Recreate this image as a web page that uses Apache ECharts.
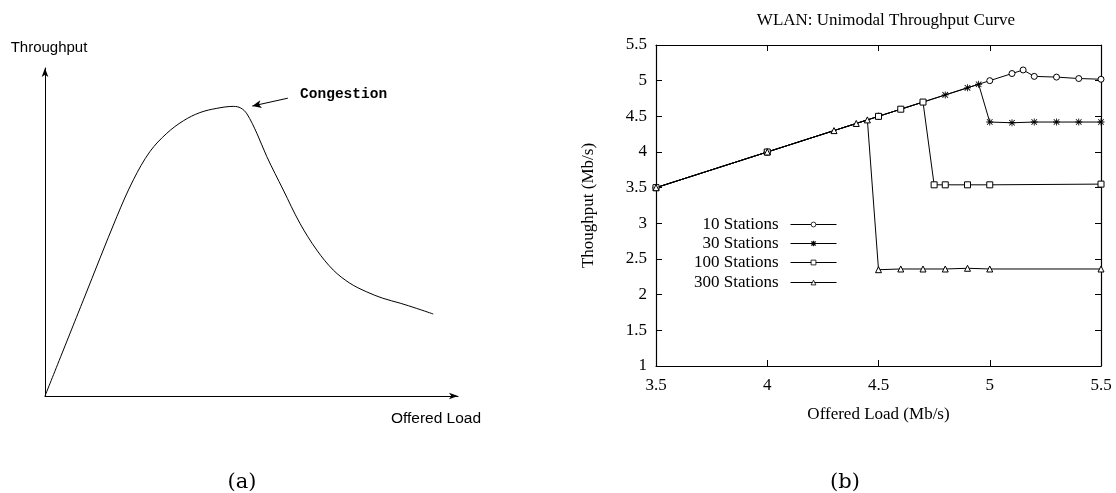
<!DOCTYPE html>
<html>
<head>
<meta charset="utf-8">
<script src="https://cdn.jsdelivr.net/npm/echarts@6/dist/echarts.min.js"></script>
<style>html,body{margin:0;padding:0;background:#fff;}#c{width:1116px;height:493px;}</style>
</head>
<body>
<div id="c"></div>
<script>
// ---- (a) schematic curve ----
const schematicCurve = [[0,0],[9.3,29.3],[17.4,54.7],[21.4,65.9],[25.4,74.5],[29.5,80.1],[33.5,83.9],[37.5,86.4],[41.6,87.7],[45.6,88.3],[47.4,87.8],[48.9,86.0],[51.3,80.1],[53.7,73.0],[57.7,62.8],[61.7,52.7],[65.8,44.5],[69.8,38.4],[73.8,34.4],[77.8,31.8],[81.8,29.8],[86.0,28.3],[90.0,26.7],[94.0,25.0]];
const congestionArrow = [[58.8,90.8],[50.2,88.4]];
const congestionLabelAt = [72.3,92.1];

// ---- (b) WLAN data ----
const xTicks = [3.5, 4, 4.5, 5, 5.5];
const seriesNames = ['10 Stations','30 Stations','100 Stations','300 Stations'];
const st10  = [[3.5,3.5],[4,4],[4.5,4.5],[5,5],[5.1,5.1],[5.15,5.15],[5.2,5.06],[5.3,5.05],[5.4,5.03],[5.5,5.02]];
const st30  = [[3.5,3.5],[4,4],[4.5,4.5],[4.8,4.8],[4.9,4.9],[4.95,4.95],[5,4.42],[5.1,4.41],[5.2,4.42],[5.3,4.42],[5.4,4.42],[5.5,4.42]];
const st100 = [[3.5,3.5],[4,4],[4.5,4.5],[4.6,4.6],[4.7,4.7],[4.75,3.54],[4.8,3.54],[4.9,3.54],[5,3.54],[5.5,3.55]];
const st300 = [[3.5,3.5],[4,4],[4.3,4.3],[4.4,4.4],[4.45,4.45],[4.5,2.35],[4.6,2.36],[4.7,2.36],[4.8,2.36],[4.9,2.37],[5,2.36],[5.5,2.36]];

const SERIF = '"Liberation Serif","DejaVu Serif",serif';
const SANS = '"Liberation Sans",Arial,sans-serif';
const asterisk = 'path://M0 4.4L10 4.4L10 5.6L0 5.6Z M4.4 0L5.6 0L5.6 10L4.4 10Z M0.6 1.5L1.5 0.6L9.4 8.5L8.5 9.4Z M8.5 0.6L9.4 1.5L1.5 9.4L0.6 8.5Z';

const chart = echarts.init(document.getElementById('c'), null, {renderer:'canvas'});

function stSeries(name, data, symbol, size, filled){
  return {
    name, type:'line', xAxisIndex:1, yAxisIndex:1, data,
    symbol, symbolSize:size, showAllSymbol:true,
    lineStyle:{color:'#000', width:1},
    itemStyle:{color: filled ? '#000' : '#fff', borderColor:'#000', borderWidth: filled ? 0 : 1},
    emphasis:{disabled:true}, animation:false, z:3
  };
}

const legendRows = [225, 244, 263, 283];
const legends = seriesNames.map((n,i)=>({
  data:[n], right:279, top:legendRows[i]-9, align:'right', orient:'vertical',
  itemWidth:46, itemHeight:6, itemGap:0, padding:0, selectedMode:false,
  lineStyle:{width:1, color:'#000'},
  itemStyle:{borderWidth:0.8},
  textStyle:{fontFamily:SERIF, fontSize:17, color:'#000', padding:[0,7,0,0]}
}));

const thinAxis = {lineStyle:{color:'#000', width:1.2}};

chart.setOption({
  animation:false,
  backgroundColor:'#fff',
  title:[
    {text:'WLAN: Unimodal Throughput Curve', left:881, top:7, textAlign:'center',
     textStyle:{fontFamily:SERIF, fontSize:17, fontWeight:'normal', color:'#000'}},
    {text:'(a)', left:237, top:467, textAlign:'center',
     textStyle:{fontFamily:'"DejaVu Serif",serif', fontSize:21, fontWeight:'normal', color:'#000'}},
    {text:'(b)', left:840, top:467, textAlign:'center',
     textStyle:{fontFamily:'"DejaVu Serif",serif', fontSize:21, fontWeight:'normal', color:'#000'}}
  ],
  legend: legends,
  grid:[
    {left:45, top:68, width:413, height:328},
    {left:656, top:45, width:445, height:321}
  ],
  xAxis:[
    {gridIndex:0, type:'value', min:0, max:100, axisTick:{show:false}, axisLabel:{show:false}, splitLine:{show:false},
     axisLine:{show:true, symbol:['none','arrow'], symbolSize:[5,9], lineStyle:{color:'#000', width:1}},
     name:'Offered Load', nameLocation:'end', nameGap:-22,
     nameTextStyle:{fontFamily:SANS, fontSize:15.5, color:'#000', align:'center', verticalAlign:'top', padding:[15,0,0,0]}},
    {gridIndex:1, type:'value', min:3.5, max:5.5, interval:0.5, position:'bottom',
     axisLine:{show:true, onZero:false, ...thinAxis}, axisTick:{show:true, inside:true, length:6, lineStyle:{color:'#000'}},
     axisLabel:{fontFamily:SERIF, fontSize:17, color:'#000', margin:11,
       formatter:v=>String(v)},
     splitLine:{show:false},
     name:'Offered Load (Mb/s)', nameLocation:'middle', nameGap:40,
     nameTextStyle:{fontFamily:SERIF, fontSize:17, color:'#000'}},
    {gridIndex:1, type:'value', min:3.5, max:5.5, interval:0.5, position:'top',
     axisLine:{show:true, onZero:false, ...thinAxis}, axisTick:{show:true, inside:true, length:6, lineStyle:{color:'#000'}},
     axisLabel:{show:false}, splitLine:{show:false}}
  ],
  yAxis:[
    {gridIndex:0, type:'value', min:0, max:100, axisTick:{show:false}, axisLabel:{show:false}, splitLine:{show:false},
     axisLine:{show:true, symbol:['none','arrow'], symbolSize:[5,9], lineStyle:{color:'#000', width:1}},
     name:'Throughput', nameLocation:'end', nameGap:13,
     nameTextStyle:{fontFamily:SANS, fontSize:15, color:'#000', align:'center', padding:[0,0,0,8]}},
    {gridIndex:1, type:'value', min:1, max:5.5, interval:0.5, position:'left',
     axisLine:{show:true, onZero:false, ...thinAxis}, axisTick:{show:true, inside:true, length:6, lineStyle:{color:'#000'}},
     axisLabel:{fontFamily:SERIF, fontSize:17, color:'#000', margin:9, formatter:v=>String(v)},
     splitLine:{show:false},
     name:'Thoughput (Mb/s)', nameLocation:'middle', nameGap:59,
     nameTextStyle:{fontFamily:SERIF, fontSize:17, color:'#000'}},
    {gridIndex:1, type:'value', min:1, max:5.5, interval:0.5, position:'right',
     axisLine:{show:true, onZero:false, ...thinAxis}, axisTick:{show:true, inside:true, length:6, lineStyle:{color:'#000'}},
     axisLabel:{show:false}, splitLine:{show:false}}
  ],
  series:[
    {type:'line', xAxisIndex:0, yAxisIndex:0, data:schematicCurve, smooth:0.35, symbol:'none',
     lineStyle:{color:'#000', width:1}, silent:true,
     markLine:{silent:true, symbol:['none','arrow'], symbolSize:[6,9],
       lineStyle:{color:'#000', width:1, type:'solid'}, label:{show:false},
       data:[[{coord:congestionArrow[0]},{coord:congestionArrow[1]}]]},
     markPoint:{silent:true, symbol:'circle', symbolSize:1, itemStyle:{color:'rgba(0,0,0,0)'},
       label:{show:true, position:'inside', formatter:'Congestion', fontFamily:'"Liberation Mono","DejaVu Sans Mono",monospace', fontWeight:'bold', fontSize:14.5, color:'#000'},
       data:[{coord:congestionLabelAt}]}},
    stSeries(seriesNames[0], st10, 'circle', 6, false),
    stSeries(seriesNames[1], st30, asterisk, 7, true),
    stSeries(seriesNames[2], st100, 'rect', 6, false),
    stSeries(seriesNames[3], st300, 'triangle', 6, false)
  ]
});
</script>
</body>
</html>
